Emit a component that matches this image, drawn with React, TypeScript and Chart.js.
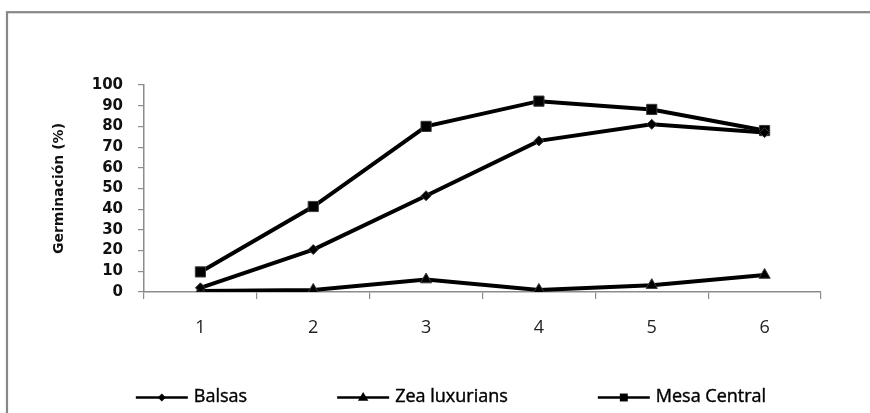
import React, { useEffect, useRef } from "react";
import { Chart, registerables } from "chart.js";

Chart.register(...registerables);

// Sampling dates (x axis) and germination percentages per population
const categories = ["1", "2", "3", "4", "5", "6"];
const balsas = [2, 20.5, 46.5, 73, 81, 77];
const zeaLuxurians = [0.5, 1, 6, 1, 3.3, 8.2];
const mesaCentral = [9.7, 41.3, 80, 92.2, 88.2, 78];
const seriesNames = ["Balsas", "Zea luxurians", "Mesa Central"];
const yTicks = [0, 10, 20, 30, 40, 50, 60, 70, 80, 90, 100];

const AXIS_GRAY = "#8c8c8c";
const CANVAS_W = 908;
const CANVAS_H = 430;

// Outer frame of the chart area (thin grey border)
const framePlugin = {
  id: "frame",
  beforeDraw(chart: any) {
    const ctx = chart.ctx;
    ctx.save();
    ctx.fillStyle = "#ffffff";
    ctx.fillRect(0, 0, chart.width, chart.height);
    ctx.strokeStyle = "#878787";
    ctx.lineWidth = 2.2;
    ctx.strokeRect(7, 12.2, chart.width + 20, chart.height + 20);
    ctx.restore();
  },
};

function drawMarker(ctx: CanvasRenderingContext2D, style: string, x: number, y: number, r: number) {
  ctx.fillStyle = "#000";
  ctx.beginPath();
  if (style === "rectRot") {
    ctx.moveTo(x, y - r);
    ctx.lineTo(x + r, y);
    ctx.lineTo(x, y + r);
    ctx.lineTo(x - r, y);
  } else if (style === "triangle") {
    ctx.moveTo(x, y - r);
    ctx.lineTo(x + r * 0.95, y + r * 0.6);
    ctx.lineTo(x - r * 0.95, y + r * 0.6);
  } else {
    const s = r * 0.72;
    ctx.rect(x - s, y - s, 2 * s, 2 * s);
  }
  ctx.closePath();
  ctx.fill();
}

// Legend drawn as "line + marker + name" entries in one centred row
const lineLegendPlugin = {
  id: "lineLegend",
  afterDraw(chart: any) {
    const ctx = chart.ctx;
    const lineLen = 52;
    const gapText = 6;
    const itemGap = 90;
    const y = 397.5;
    ctx.save();
    ctx.font = '18px "Open Sans"';
    ctx.textBaseline = "middle";
    const items = chart.data.datasets.map((ds: any) => ({
      ds,
      w: lineLen + gapText + ctx.measureText(ds.label).width,
    }));
    const total =
      items.reduce((s: number, it: any) => s + it.w, 0) + itemGap * (items.length - 1);
    let x = chart.width / 2 - total / 2 - 3;
    for (const it of items) {
      const ds = it.ds;
      ctx.strokeStyle = "#000";
      ctx.lineWidth = 2.6;
      ctx.beginPath();
      ctx.moveTo(x, y);
      ctx.lineTo(x + lineLen, y);
      ctx.stroke();
      const style = ds.pointStyle;
      const r = style === "rectRot" ? 4 : 5.5;
      drawMarker(ctx, style, x + lineLen / 2, y, r);
      ctx.fillStyle = "#000";
      ctx.strokeStyle = "#000";
      ctx.lineWidth = 0.4;
      ctx.textAlign = "left";
      ctx.fillText(ds.label, x + lineLen + gapText, y - 0.5);
      ctx.strokeText(ds.label, x + lineLen + gapText, y - 0.5);
      x += it.w + itemGap;
    }
    ctx.restore();
  },
};

const AREA_LEFT = 144;
const AREA_TOP = 85;
const AREA_RIGHT = 821;
const AREA_BOTTOM = 292;
const PAD_LEFT = 47;

export default function App() {
  const canvasRef = useRef<HTMLCanvasElement | null>(null);

  useEffect(() => {
    const canvas = canvasRef.current;
    if (!canvas) return;
    const lineDs = (label: string, data: number[], pointStyle: string, radius: number) => ({
      label,
      data,
      borderColor: "#000000",
      backgroundColor: "#000000",
      borderWidth: 4,
      pointStyle,
      pointRadius: radius,
      pointBorderWidth: 1,
      pointBorderColor: "#3a3a3a",
      pointBackgroundColor: "#000000",
      tension: 0,
      fill: false,
    });
    const chart = new Chart(canvas, {
      type: "line",
      data: {
        labels: categories,
        datasets: [
          lineDs(seriesNames[0], balsas, "rectRot", 5),
          lineDs(seriesNames[1], zeaLuxurians, "triangle", 6.5),
          lineDs(seriesNames[2], mesaCentral, "rect", 7.2),
        ],
      },
      options: {
        animation: false,
        responsive: false,
        devicePixelRatio: 1,
        layout: {
          padding: {
            left: PAD_LEFT,
            top: AREA_TOP,
            right: CANVAS_W - AREA_RIGHT,
            bottom: 0,
          },
        },
        plugins: {
          legend: { display: false },
          tooltip: { enabled: false },
          title: { display: false },
        },
        scales: {
          x: {
            type: "category",
            offset: true,
            grid: {
              offset: true,
              drawOnChartArea: false,
              drawTicks: true,
              tickLength: 7,
              color: AXIS_GRAY,
              lineWidth: 1.2,
            },
            border: { display: true, color: AXIS_GRAY, width: 1.5 },
            ticks: {
              color: "#222",
              font: { family: "Open Sans", size: 18 },
              padding: 18,
              maxRotation: 0,
              autoSkip: false,
            },
            afterFit(scale: any) {
              scale.height = CANVAS_H - AREA_BOTTOM;
            },
          },
          y: {
            min: 0,
            max: 100,
            afterBuildTicks(scale: any) {
              scale.ticks = yTicks.map((v) => ({ value: v }));
            },
            grid: {
              drawOnChartArea: false,
              drawTicks: true,
              tickLength: 6,
              color: AXIS_GRAY,
              lineWidth: 1.2,
            },
            border: { display: true, color: AXIS_GRAY, width: 1.5 },
            ticks: {
              color: "#111",
              font: { family: "DejaVu Sans", size: 15, weight: "bold", lineHeight: 1 },
              padding: 15,
              autoSkip: false,
            },
            title: {
              display: true,
              text: "Germinación (%)",
              color: "#111",
              font: { family: "DejaVu Sans", size: 14, weight: "bold", lineHeight: 1.2 },
              padding: { top: 4, bottom: 4 },
            },
            afterFit(scale: any) {
              scale.width = AREA_LEFT - PAD_LEFT;
            },
          },
        },
      },
      plugins: [framePlugin, lineLegendPlugin],
    } as any);
    return () => chart.destroy();
  }, []);

  return (
    <div
      style={{
        position: "fixed",
        left: 0,
        top: 0,
        width: 870,
        height: 413,
        overflow: "hidden",
        background: "#fff",
      }}
    >
      <canvas
        ref={canvasRef}
        width={CANVAS_W}
        height={CANVAS_H}
        style={{ display: "block", width: CANVAS_W, height: CANVAS_H }}
      />
    </div>
  );
}
